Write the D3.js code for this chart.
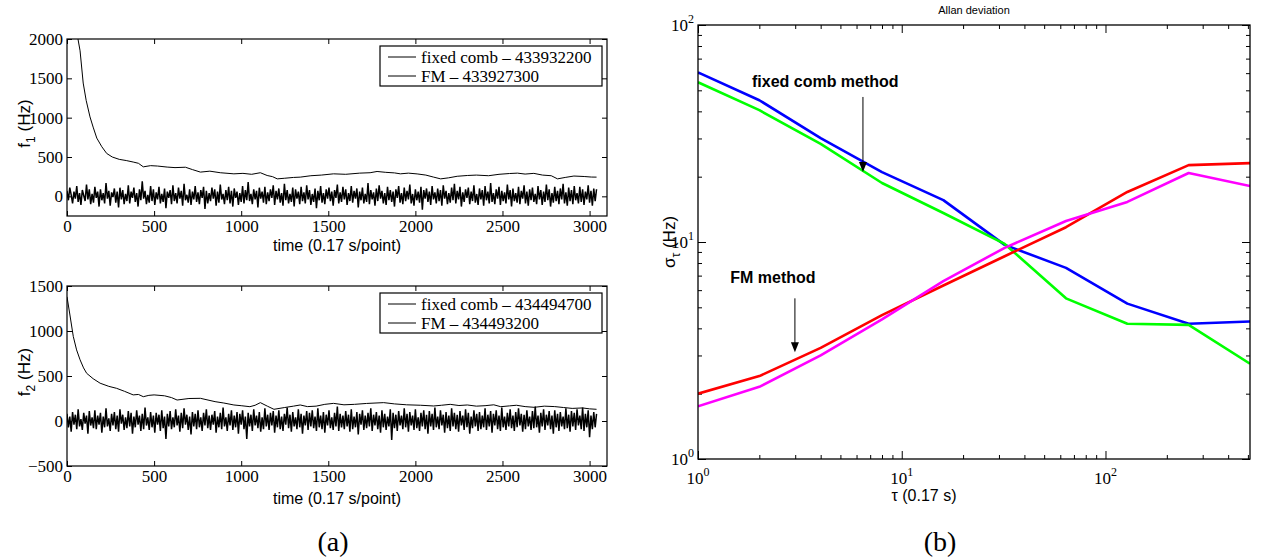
<!DOCTYPE html>
<html><head><meta charset="utf-8">
<script src="https://cdn.jsdelivr.net/npm/d3@7"></script>
<style>body{margin:0;background:#fff;} svg{display:block;}</style>
</head><body>
<svg id="c" width="1263" height="559"></svg>
<script>
// ---------------- DATA ----------------
const timeTicks = [0, 500, 1000, 1500, 2000, 2500, 3000];
const f1Ticks = [0, 500, 1000, 1500, 2000];
const f2Ticks = [-500, 0, 500, 1000, 1500];
const fmStep = 8; // samples between listed FM readings

const fixed1T = [0,20,40,63,75,93,110,132,150,171,200,228,260,300,340,380,410,438,480,520,575,620,680,720,766,820,880,958,1010,1060,1110,1149,1180,1207,1250,1300,1339,1400,1460,1530,1600,1680,1740,1780,1830,1880,1914,1960,2010,2060,2105,2145,2190,2240,2298,2350,2420,2480,2540,2586,2630,2680,2730,2780,2816,2860,2910,2969,3010,3040];
const fixed1V = [4200,3100,2500,2000,1850,1440,1220,1010,880,740,630,545,500,470,455,436,420,375,390,385,372,365,370,340,308,320,300,286,292,280,300,265,250,222,230,240,244,262,270,286,280,295,300,316,305,298,286,295,285,270,244,222,235,255,265,270,262,280,290,295,283,292,270,262,222,240,258,252,245,244];
const fm1V = [
70,-50,110,20,-90,60,-30,130,-70,40,-110,80,10,-60,150,-40,90,-100,30,-80,
120,-20,60,-130,90,-50,40,-90,170,-30,70,-120,50,-10,100,-80,60,-140,110,-40,
80,-100,30,-60,140,-90,60,-20,110,-70,40,-130,90,-50,190,-30,70,-100,20,-80,
130,-60,90,-110,50,-40,120,-90,30,-70,100,-150,60,-20,80,-100,140,-60,40,-90,
110,-30,70,-120,160,-50,20,-80,90,-110,60,-40,130,-70,50,-100,80,-20,120,-160,
70,-90,40,-60,110,-30,90,-120,60,-80,150,-40,30,-100,80,-50,120,-90,70,-130,
100,-20,60,-110,40,-70,130,-90,80,-50,180,-60,30,-100,90,-40,70,-140,110,-30,
60,-80,120,-100,50,-60,90,-20,140,-110,70,-40,100,-80,40,-120,160,-50,80,-90,
30,-70,110,-130,90,-30,60,-100,120,-60,50,-90,140,-40,80,-110,30,-70,100,-150,
70,-50,130,-80,40,-100,90,-30,110,-60,60,-120,80,-20,150,-90,50,-70,120,-40,
90,-110,40,-60,130,-80,70,-30,100,-140,60,-50,110,-90,30,-70,170,-100,80,-40,
50,-120,100,-60,140,-30,70,-90,40,-110,120,-50,80,-70,60,-130,90,-20,130,-80,
40,-100,110,-60,70,-40,150,-90,30,-120,90,-50,60,-80,120,-170,80,-30,100,-70,
60,-110,130,-40,50,-90,100,-60,80,-120,140,-30,70,-100,40,-80,110,-50,160,-90,
70,-40,120,-130,50,-70,90,-20,110,-100,60,-60,140,-80,30,-110,100,-40,80,-120,
130,-50,60,-90,170,-70,40,-100,90,-30,120,-110,70,-60,50,-90,150,-40,80,-130,
100,-60,40,-80,120,-100,70,-30,140,-90,60,-120,90,-50,110,-70,30,-100,130,-40,
80,-110,60,-70,150,-50,90,-130,40,-80,120,-60,70,-100,100,-40,160,-90,50,-120,
110,-60,80,-100,130,-50,40,-90,120,-70,90,-110,60,-40,140,-80,70,-120,100,-60,
90];

const fixed2T = [0,15,36,55,75,95,113,150,190,240,285,330,380,410,438,470,500,560,600,632,700,766,850,900,958,1000,1050,1080,1110,1150,1188,1250,1300,1339,1380,1430,1480,1530,1590,1650,1720,1818,1880,1950,2030,2105,2150,2200,2250,2298,2350,2400,2450,2490,2540,2580,2630,2682,2740,2800,2850,2900,2960,3000,3040];
const fixed2V = [1380,1200,940,790,680,590,530,470,420,385,363,330,290,295,270,285,290,280,260,233,250,252,215,200,178,170,159,175,204,165,130,150,165,178,160,165,185,196,180,185,195,204,190,180,175,167,175,185,172,178,165,170,180,159,168,175,160,152,165,160,150,140,145,135,130];
const fm2V = [
80,-70,50,-120,100,-40,70,-90,130,-60,20,-100,90,-30,60,-140,110,-50,40,-80,
120,-90,60,-40,90,-130,50,-70,140,-60,30,-110,80,-50,100,-90,60,-120,130,-30,
70,-100,40,-80,110,-60,90,-140,50,-70,120,-40,60,-110,80,-90,150,-50,40,-100,
100,-70,60,-130,90,-40,70,-110,120,-80,50,-200,80,-60,110,-90,40,-70,130,-50,
60,-120,90,-80,140,-40,70,-100,50,-150,100,-60,80,-90,120,-70,40,-110,90,-50,
130,-80,60,-100,70,-40,110,-130,50,-70,90,-90,150,-60,40,-110,80,-50,120,-100,
60,-70,100,-140,80,-40,120,-90,50,-200,90,-60,70,-110,130,-50,60,-80,100,-120,
40,-90,140,-60,70,-100,90,-50,110,-130,60,-70,120,-90,50,-110,80,-40,150,-80,
70,-120,100,-60,40,-90,130,-70,80,-140,60,-50,110,-100,90,-60,120,-80,50,-110,
140,-70,60,-90,100,-130,70,-50,120,-80,40,-100,90,-60,160,-110,80,-70,60,-90,
110,-60,70,-120,130,-90,50,-70,100,-150,80,-40,120,-100,60,-80,90,-60,140,-110,
70,-50,100,-90,60,-130,120,-70,80,-100,50,-60,130,-210,90,-80,70,-110,110,-50,
60,-90,140,-70,80,-120,100,-50,60,-100,130,-80,40,-110,90,-60,120,-90,70,-140,
110,-60,80,-100,150,-70,50,-90,120,-50,70,-130,100,-80,60,-110,140,-60,90,-90,
70,-120,110,-50,60,-100,130,-70,90,-140,50,-80,120,-60,80,-110,100,-90,60,-70,
140,-100,70,-60,110,-130,80,-50,120,-90,60,-110,150,-70,50,-100,90,-60,130,-80,
60,-110,100,-70,140,-50,80,-120,70,-90,120,-60,50,-100,110,-80,160,-70,60,-130,
90,-60,130,-100,70,-50,110,-90,60,-140,120,-70,80,-110,100,-60,50,-90,140,-80,
70,-120,110,-60,90,-100,130,-50,60,-90,150,-110,80,-70,120,-180,60,-90,100,-70,
80];

const legend1 = ["fixed comb \u2013 433932200", "FM \u2013 433927300"];
const legend2 = ["fixed comb \u2013 434494700", "FM \u2013 434493200"];

const tau = [1, 2, 4, 8, 16, 32, 64, 128, 256, 512];
const blueV    = [60.5, 45.0, 30.1, 21.0, 15.6, 9.7, 7.6, 5.2, 4.2, 4.3];
const greenV   = [54.5, 40.5, 28.3, 18.7, 13.6, 9.8, 5.5, 4.2, 4.15, 2.75];
const redV     = [2.0, 2.41, 3.25, 4.6, 6.3, 8.6, 11.7, 17.0, 22.6, 23.1];
const magentaV = [1.75, 2.15, 3.0, 4.4, 6.6, 9.4, 12.5, 15.3, 20.8, 18.1];
const allanSeries = [
  {name: "fixed comb f1", color: "#0000ff", values: blueV},
  {name: "fixed comb f2", color: "#00ff00", values: greenV},
  {name: "FM f1", color: "#ff0000", values: redV},
  {name: "FM f2", color: "#ff00ff", values: magentaV}
];
const logMajor = [1, 10, 100];

// ---------------- DRAW ----------------
const svg = d3.select("#c");
svg.append("rect").attr("width", 1263).attr("height", 559).attr("fill", "#fff");
const defs = svg.append("defs");
const SERIF = "'Liberation Serif','DejaVu Serif',serif";
const SANS = "'Liberation Sans',Arial,sans-serif";

function styleAxis(sel) {
  sel.select(".domain").remove();
  sel.selectAll(".tick line").attr("stroke", "#000").attr("stroke-width", 1);
  sel.selectAll("text").attr("font-family", SERIF).attr("font-size", 17).attr("fill", "#000");
}

function timePanel(o) {
  const x = d3.scaleLinear().domain([0, 3100]).range([67, 607]);
  const y = d3.scaleLinear().domain(o.yDomain).range([o.bottom, o.top]);
  const g = svg.append("g");
  defs.append("clipPath").attr("id", o.id).append("rect")
    .attr("x", 67).attr("y", o.top).attr("width", 540).attr("height", o.bottom - o.top);
  const line = d3.line().x(d => x(d[0])).y(d => y(d[1]));
  const fmData = o.fm.map((v, i) => [i * fmStep, v]);
  const fixedData = o.fixedT.map((t, i) => [t, o.fixedV[i]]);
  const plot = g.append("g").attr("clip-path", `url(#${o.id})`);
  plot.append("path").datum(fmData).attr("d", line).attr("fill", "none")
    .attr("stroke", "#000").attr("stroke-width", 1.5);
  plot.append("path").datum(fixedData).attr("d", line).attr("fill", "none")
    .attr("stroke", "#000").attr("stroke-width", 1);

  g.append("g").attr("transform", `translate(0,${o.bottom})`)
    .call(d3.axisBottom(x).tickValues(timeTicks).tickSize(-5).tickPadding(4).tickFormat(d3.format("d")))
    .call(styleAxis);
  g.append("g").attr("transform", `translate(0,${o.top})`)
    .call(d3.axisTop(x).tickValues(timeTicks).tickSize(-5).tickFormat(""))
    .call(styleAxis);
  g.append("g").attr("transform", `translate(67,0)`)
    .call(d3.axisLeft(y).tickValues(o.yTicks).tickSize(-5).tickPadding(4).tickFormat(d3.format("d")))
    .call(styleAxis);
  g.append("g").attr("transform", `translate(607,0)`)
    .call(d3.axisRight(y).tickValues(o.yTicks).tickSize(-5).tickFormat(""))
    .call(styleAxis);
  g.append("rect").attr("x", 67).attr("y", o.top).attr("width", 540).attr("height", o.bottom - o.top)
    .attr("fill", "none").attr("stroke", "#000").attr("stroke-width", 1.2);

  // x label
  g.append("text").attr("x", 337).attr("y", o.bottom + o.xlabOff).attr("text-anchor", "middle")
    .attr("font-family", SANS).attr("font-size", 16).text("time (0.17 s/point)");
  // y label
  const yl = g.append("text").attr("transform", `translate(30,${(o.top + o.bottom) / 2 - 4}) rotate(-90)`)
    .attr("text-anchor", "middle").attr("font-family", SANS).attr("font-size", 17);
  yl.append("tspan").text("f");
  yl.append("tspan").attr("font-size", 12).attr("dy", 5).text(o.sub);
  yl.append("tspan").attr("dy", -5).text(" (Hz)");

  // legend
  const lg = g.append("g");
  lg.append("rect").attr("x", 380).attr("y", o.top + 7).attr("width", 222).attr("height", 40)
    .attr("fill", "#fff").attr("stroke", "#000").attr("stroke-width", 1.2);
  o.legend.forEach((t, i) => {
    const yy = o.top + 18 + i * 19;
    lg.append("line").attr("x1", 388).attr("x2", 416).attr("y1", yy).attr("y2", yy)
      .attr("stroke", "#000").attr("stroke-width", 1);
    lg.append("text").attr("x", 421).attr("y", yy + 6).attr("font-family", SERIF)
      .attr("font-size", 17).text(t);
  });
}

timePanel({id: "clip1", top: 39, bottom: 216, yDomain: [-250, 2000], yTicks: f1Ticks, xlabOff: 35,
  fixedT: fixed1T, fixedV: fixed1V, fm: fm1V, legend: legend1, sub: "1"});
timePanel({id: "clip2", top: 286, bottom: 466, yDomain: [-500, 1500], yTicks: f2Ticks, xlabOff: 38,
  fixedT: fixed2T, fixedV: fixed2V, fm: fm2V, legend: legend2, sub: "2"});

svg.append("text").attr("x", 333).attr("y", 551).attr("text-anchor", "middle")
  .attr("font-family", SERIF).attr("font-size", 28).text("(a)");

// ---------------- Allan deviation panel ----------------
(function () {
  const L = 698, R = 1250, T = 25, B = 459;
  const x = d3.scaleLog().domain([1, 512]).range([L, R]);
  const y = d3.scaleLog().domain([1, 100]).range([B, T]);
  const g = svg.append("g");
  defs.append("clipPath").attr("id", "clip3").append("rect")
    .attr("x", L).attr("y", T).attr("width", R - L).attr("height", B - T);

  const xMinor = x.ticks().filter(v => !logMajor.includes(v));
  const yMinor = y.ticks().filter(v => !logMajor.includes(v));
  const mk = (axis, scale, vals, size) => axis(scale).tickValues(vals).tickSize(size).tickFormat("");
  [[d3.axisBottom, `translate(0,${B})`], [d3.axisTop, `translate(0,${T})`]].forEach(([ax, tr]) => {
    g.append("g").attr("transform", tr).call(mk(ax, x, xMinor, -4)).call(styleAxis);
    g.append("g").attr("transform", tr).call(mk(ax, x, logMajor, -8)).call(styleAxis);
  });
  [[d3.axisLeft, `translate(${L},0)`], [d3.axisRight, `translate(${R},0)`]].forEach(([ax, tr]) => {
    g.append("g").attr("transform", tr).call(mk(ax, y, yMinor, -4)).call(styleAxis);
    g.append("g").attr("transform", tr).call(mk(ax, y, logMajor, -8)).call(styleAxis);
  });

  const line = d3.line().x((d, i) => x(tau[i])).y(d => y(d));
  const plot = g.append("g").attr("clip-path", "url(#clip3)");
  allanSeries.forEach(s => {
    plot.append("path").datum(s.values).attr("d", line).attr("fill", "none")
      .attr("stroke", s.color).attr("stroke-width", 2.6).attr("stroke-linejoin", "round");
  });

  g.append("rect").attr("x", L).attr("y", T).attr("width", R - L).attr("height", B - T)
    .attr("fill", "none").attr("stroke", "#000").attr("stroke-width", 1.3);

  // tick labels
  logMajor.forEach(v => {
    const t = g.append("text").attr("x", x(v)).attr("y", B + 25).attr("text-anchor", "middle")
      .attr("font-family", SERIF).attr("font-size", 17);
    t.append("tspan").text("10");
    t.append("tspan").attr("font-size", 12).attr("dy", -8).text(Math.round(Math.log10(v)));
    const u = g.append("text").attr("x", L - 4).attr("y", y(v) + 6).attr("text-anchor", "end")
      .attr("font-family", SERIF).attr("font-size", 17);
    u.append("tspan").text("10");
    u.append("tspan").attr("font-size", 12).attr("dy", -8).text(Math.round(Math.log10(v)));
  });

  g.append("text").attr("x", (L + R) / 2).attr("y", 14).attr("text-anchor", "middle")
    .attr("font-family", SANS).attr("font-size", 11).text("Allan deviation");
  g.append("text").attr("x", 924).attr("y", 501).attr("text-anchor", "middle")
    .attr("font-family", SANS).attr("font-size", 16).text("\u03C4 (0.17 s)");
  const yl = g.append("text").attr("transform", `translate(675,${(T + B) / 2}) rotate(-90)`)
    .attr("text-anchor", "middle").attr("font-family", SANS).attr("font-size", 17);
  yl.append("tspan").text("\u03C3");
  yl.append("tspan").attr("font-size", 12).attr("dy", 5).text("\u03C4");
  yl.append("tspan").attr("dy", -5).text(" (Hz)");

  // annotations
  function arrow(tv, from, to) {
    const px = x(tv), y1 = y(from), y2 = y(to);
    g.append("line").attr("x1", px).attr("x2", px).attr("y1", y1).attr("y2", y2 - 8)
      .attr("stroke", "#000").attr("stroke-width", 1);
    g.append("path").attr("d", `M${px - 4},${y2 - 10}L${px + 4},${y2 - 10}L${px},${y2}Z`).attr("fill", "#000");
  }
  g.append("text").attr("x", x(1.84)).attr("y", y(51.8)).attr("font-family", SANS)
    .attr("font-weight", "bold").attr("font-size", 16).text("fixed comb method");
  arrow(6.45, 46.6, 21.0);
  g.append("text").attr("x", x(1.44)).attr("y", y(6.47)).attr("font-family", SANS)
    .attr("font-weight", "bold").attr("font-size", 16).text("FM method");
  arrow(2.99, 5.5, 3.1);

  svg.append("text").attr("x", 940).attr("y", 551).attr("text-anchor", "middle")
    .attr("font-family", SERIF).attr("font-size", 28).text("(b)");
})();
</script>
</body></html>
